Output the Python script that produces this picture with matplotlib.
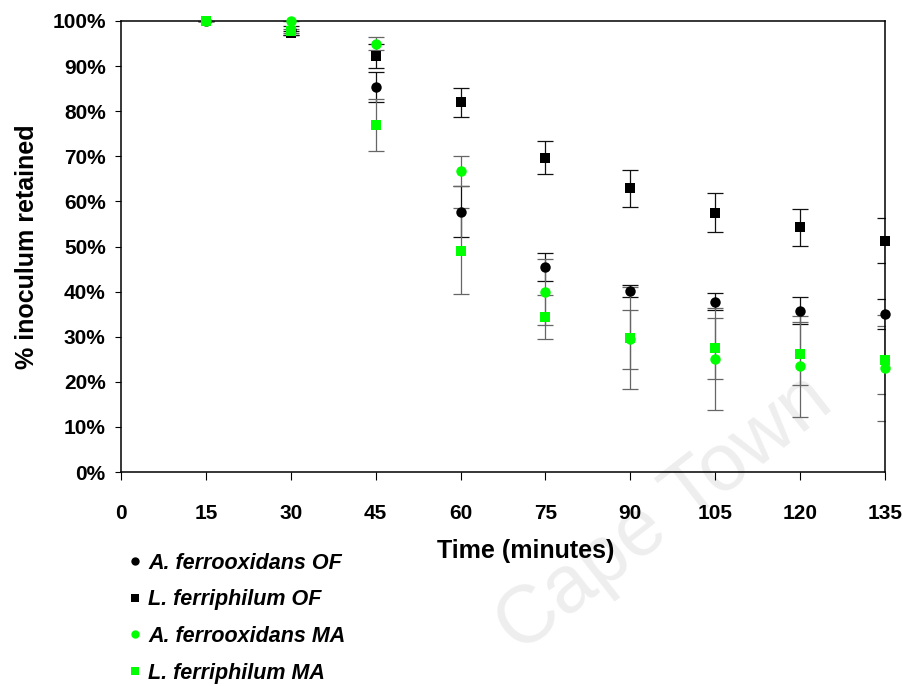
import matplotlib
matplotlib.use("Agg")
import matplotlib.pyplot as plt
from matplotlib.ticker import FuncFormatter

plt.rcParams['font.family'] = ['Liberation Sans', 'DejaVu Sans']

# ---- data ----
time = [15, 30, 45, 60, 75, 90, 105, 120, 135]

af_of = [100, 98.0, 85.4, 57.7, 45.5, 40.1, 37.8, 35.8, 35.0]
af_of_err = [0, 1.0, 3.3, 5.7, 3.1, 1.4, 1.9, 3.0, 3.3]

lf_of = [100, 97.3, 92.2, 82.0, 69.7, 62.9, 57.5, 54.3, 51.3]
lf_of_err = [0, 0.5, 2.6, 3.2, 3.7, 4.1, 4.3, 4.1, 5.0]

af_ma = [100, 100, 95.0, 66.8, 39.9, 29.4, 25.0, 23.4, 23.0]
af_ma_err = [0, 0, 1.5, 3.3, 7.3, 6.5, 11.3, 11.1, 11.8]

lf_ma = [100, 97.8, 77.0, 49.0, 34.4, 29.7, 27.4, 26.2, 24.8]
lf_ma_err = [0, 0.5, 5.8, 9.5, 4.9, 11.4, 6.8, 7.0, 7.5]

labels = ['A. ferrooxidans OF', 'L. ferriphilum OF',
          'A. ferrooxidans MA', 'L. ferriphilum MA']
x_ticks = [0, 15, 30, 45, 60, 75, 90, 105, 120, 135]
y_ticks = [0, 10, 20, 30, 40, 50, 60, 70, 80, 90, 100]

series = [
    (af_of, af_of_err, 'o', 'black', '#111111'),
    (lf_of, lf_of_err, 's', 'black', '#111111'),
    (af_ma, af_ma_err, 'o', '#00ff00', '#666666'),
    (lf_ma, lf_ma_err, 's', '#00ff00', '#666666'),
]

fig = plt.figure(figsize=(9.04, 6.86), dpi=100)
ax = fig.add_axes([121/904, 1-472/686, (885-121)/904, (472-21)/686])
ax.set_facecolor('none')

# watermark
fig.text(665/904, 1-515/686, 'Cape Town', fontsize=58, color='#eeeeee',
         rotation=38, ha='center', va='center', zorder=-1)

for vals, err, mk, col, ecol in series:
    ax.errorbar(time, vals, yerr=err, fmt='none', ecolor=ecol,
                elinewidth=0.9, capsize=6, capthick=0.9, zorder=2)

handles = []
for (vals, err, mk, col, ecol), lab in zip(series, labels):
    h, = ax.plot(time, vals, linestyle='none', marker=mk, color=col,
                 markersize=7.5, markeredgewidth=0, label=lab, zorder=3,
                 clip_on=False)
    handles.append(h)

ax.set_xlim(0, 135)
ax.set_ylim(0, 100)
ax.set_xticks(x_ticks)
ax.set_yticks(y_ticks)
ax.yaxis.set_major_formatter(FuncFormatter(lambda v, p: f'{int(v)}%'))
for sp in ax.spines.values():
    sp.set_linewidth(1.1)
    sp.set_color('black')
ax.tick_params(axis='x', direction='out', length=6, width=0.8, pad=17,
               labelsize=15)
ax.tick_params(axis='y', direction='out', length=4, width=0.8, pad=7,
               labelsize=15)
for t in ax.get_xticklabels() + ax.get_yticklabels():
    t.set_fontweight('bold')

ax.set_xlabel('Time (minutes)', fontsize=18, fontweight='bold')
ax.xaxis.set_label_coords((526-121)/764, (472-539)/451)
ax.set_ylabel('% inoculum retained', fontsize=18, fontweight='bold')
ax.yaxis.set_label_coords((39-121)/764, 0.5)

leg = fig.legend(handles=handles, labels=labels, loc='upper left',
                 bbox_to_anchor=(129/904, 1-553/686), frameon=False,
                 prop={'size': 15.5, 'weight': 'bold', 'style': 'italic'},
                 handlelength=0.6, handletextpad=0.3, labelspacing=0.72,
                 borderpad=0, borderaxespad=0, markerscale=0.8)

fig.savefig('out.png', dpi=100)
